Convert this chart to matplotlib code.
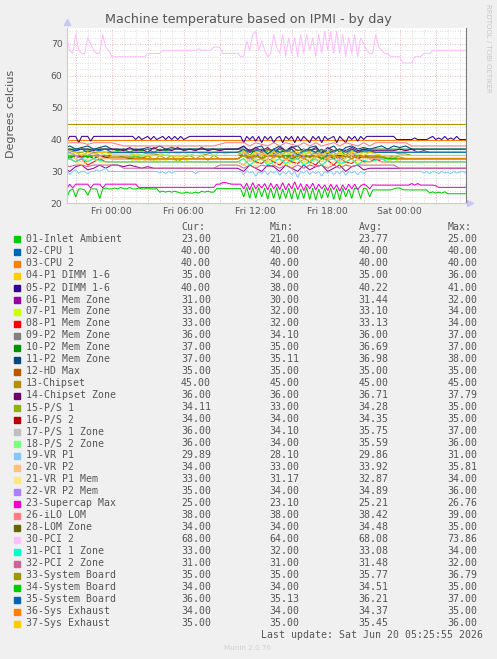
import numpy as np
import matplotlib
matplotlib.use('Agg')
import matplotlib.pyplot as plt
from matplotlib.ticker import MultipleLocator, FuncFormatter

W, H = 497, 659

# legend names and summary columns
names = ['01-Inlet Ambient', '02-CPU 1', '03-CPU 2', '04-P1 DIMM 1-6', '05-P2 DIMM 1-6',
         '06-P1 Mem Zone', '07-P1 Mem Zone', '08-P1 Mem Zone', '09-P2 Mem Zone',
         '10-P2 Mem Zone', '11-P2 Mem Zone', '12-HD Max', '13-Chipset', '14-Chipset Zone',
         '15-P/S 1', '16-P/S 2', '17-P/S 1 Zone', '18-P/S 2 Zone', '19-VR P1', '20-VR P2',
         '21-VR P1 Mem', '22-VR P2 Mem', '23-Supercap Max', '26-iLO LOM', '28-LOM Zone',
         '30-PCI 2', '31-PCI 1 Zone', '32-PCI 2 Zone', '33-System Board', '34-System Board',
         '35-System Board', '36-Sys Exhaust', '37-Sys Exhaust']
cur = [23.00, 40.00, 40.00, 35.00, 40.00, 31.00, 33.00, 33.00, 36.00, 37.00, 37.00, 35.00,
       45.00, 36.00, 34.11, 34.00, 36.00, 36.00, 29.89, 34.00, 33.00, 35.00, 25.00, 38.00,
       34.00, 68.00, 33.00, 31.00, 35.00, 34.00, 36.00, 34.00, 35.00]
mins = [21.00, 40.00, 40.00, 34.00, 38.00, 30.00, 32.00, 32.00, 34.10, 35.00, 35.11, 35.00,
        45.00, 36.00, 33.00, 34.00, 34.10, 34.00, 28.10, 33.00, 31.17, 34.00, 23.10, 38.00,
        34.00, 64.00, 32.00, 31.00, 35.00, 34.00, 35.13, 34.00, 35.00]
avgs = [23.77, 40.00, 40.00, 35.00, 40.22, 31.44, 33.10, 33.13, 36.00, 36.69, 36.98, 35.00,
        45.00, 36.71, 34.28, 34.35, 35.75, 35.59, 29.86, 33.92, 32.87, 34.89, 25.21, 38.42,
        34.48, 68.08, 33.08, 31.48, 35.77, 34.51, 36.21, 34.37, 35.45]
maxs = [25.00, 40.00, 40.00, 36.00, 41.00, 32.00, 34.00, 34.00, 37.00, 37.00, 38.00, 35.00,
        45.00, 37.79, 35.00, 35.00, 37.00, 36.00, 31.00, 35.81, 34.00, 36.00, 26.76, 39.00,
        35.00, 73.86, 34.00, 32.00, 36.79, 35.00, 37.00, 35.00, 36.00]

# traces: values from Thu 20:00 on, every 15 min (136 values) or every 30 min (68 values)
# sections: before Fri 00:00 | Fri 00:00-11:00 | Fri 11:00-22:00 | after Fri 22:00
s01 = ("22 21.6 24 24.5 22 24.5 24.5 24.2 22.5 24.5 24.5 24.5 21.5 24.5 24.8 24.5 | "
       "24.5 24.8 24.5 25 24.6 24.5 25 24.5 24.5 24.8 24.5 24.5 24.8 24.5 24.5 24.6 "
       "23.5 23.8 23.5 23.8 23.5 23.8 23.5 23.2 23.2 23.5 23.2 23.2 23.5 23.2 23.8 23.5 "
       "23.8 23.5 23.5 24.6 24.6*8 | "
       "22 25 21.6 25 21.6 25 22 24.8 21.3 24.8 21.5 25 21.2 24.5 21.5 24.8 21.3 24.8 21.2 24.5 "
       "21.5 25 21.2 24.8 21 24.5 21.5 24.8 21.8 24.8 21.2 24.6 21 24.8 22 24.5 21.5 24.8 "
       "24.5 21.5 24.8 24.5 22 24.2 | "
       "24.2*6 24.5 24.8 24.8 24.3 24.2*8 23.2 23.6 23.2 23.5 23.2 23.6 23*8")
s02 = "40*68"
s03 = "40*68"
s04 = ("35 36 35 34.5 35 36 35 35 | 35*4 35.5 35 34.5 35 35.5 35 35 34.5 35*10 | "
       "36 34.5 35.5 34 36 35 34.5 36 35 34 35.5 36 34.5 35 36 34 35.5 35 36 34.5 35 35 | 35*16")
s05 = ("38.5 39.5 41 41 41 39 41 41 41 39.5 41 41 41 41 41 41 | "
       "41*8 40 41 40 40.5 41 40 41 40 40.5 41 40 41 40 41 40 41 40 40.5 41*18 | "
       "39 41 40 41 39.5 41 39 41 40 41 39 40.5 41 39 41 40 41 39 41 39.5 41 40 39 41 "
       "40 41 39 41 40 40.5 41 39 41 40 39 41 40 41 39.5 41 40 41 41 41 | "
       "41*7 40*6 40.5 40*4 40.5 41 40 40.5 40 41 40 40.5 40 41 40 40 40 40")
s06 = ("31 30 31.5 32 30.5 31 32 31 | 32*2 31.5 32 31.5 31 31.5 31*15 | "
       "30 32 31 30 32 31.5 30 32 31 30 32 30.5 31.5 32 30 31 32 30 31.5 32 30.5 31 | 31*16")
s07 = ("33 34 33 32 33.5 34 33 33 | 33*4 34 33 34 33 34 33.5 34 33 34 33 33*8 | "
       "34 32 33 34 32.5 33.5 34 32 33 34 32.5 33 34 32 33.5 34 32 33 34 32.5 33 33 | "
       "33.5 34 33 34 33*12")
s08 = ("33 34 33 34 32 33 34 33 | 33*22 | "
       "32 34 33 32.5 34 33 32 34 33 32.5 34 33 32 34 33.5 32 34 33 32.5 34 33 33 | 34 33*15")
s09 = ("36 37 36 35 36 37 36 36 | 36*22 | "
       "35 37 36 34.1 36.5 37 35 36 37 34.5 36 37 35.5 36 37 34.5 36 37 35 36 36.5 36 | 36*16")
s10 = ("37*8 | 37 36.5 37 36 37 36.5 37 36 37 36.5 37*12 | "
       "37 35 37 36 37 35.5 37 36 37 35 37 36.5 37 35.5 37 36 37 35 37 36 37 37 | 37*16")
s11 = ("37 38 37 37.5 38 37 37.5 38 | 37*6 37.5 37 38 37 37.5 37*11 | "
       "38 36 37.5 38 35.11 37 38 36.5 37.5 38 36 37.5 38 35.5 37 38 36 37.5 38 37 37.5 37 | "
       "37.5 38 37 38 37.5 38 37*10")
s12 = "35*68"
s13 = "45*68"
s14 = ("36.5 37 36.5 37 37 36.5 37 37 | "
       "37*2 36.5 37.5 36.5 37 36 37.5 36.5 37 36.5 37.5 36.5 37 36.5 37.5 36.5 37 36.5 37 37 37 | "
       "37.79 36.5 37.5 36.5 37.5 36 37.5 36.5 37.79 36.5 37 36.5 37.5 36 37.5 36.5 37 36.5 "
       "37.5 36.5 37 36.5 | 36.5*4 37 36.5 37 36 36.5 36*7")
s15 = ("34.5 35 34 35 34.5 35 34 34.5 | "
       "34*4 35 34 35 33.5 35 34 35 33 34.5 35 34 35 33.5 35 34 34*3 | "
       "35 33.5 34.5 35 33 34.5 35 34 33.5 35 34.5 33 35 34 34.5 35 33.5 34.5 35 34 34.5 34 | "
       "34.5 35 34 35 34.5 34.11*11")
s16 = ("35 34 35 34.5 35 34 35 34.5 | 34*22 | "
       "35 34 35 34 35 34.5 35 34 35 34 35 34.5 35 34 35 34 35 34.5 35 34 35 34 | 34*16")
s17 = ("36 37 36 35 36 37 36 36 | 35.5*4 36*18 | "
       "37 34.5 36 37 35 36.5 34.1 37 36 35 37 36 34.5 36.5 37 35 36 37 35 36 36 36 | 36*16")
s18 = ("36 35 36 36 35 36 36 35 | "
       "35*4 36 35 36 35.5 36 35 36 35.5 36 35 36 35.5 36 35 36 35.5 36 36 | "
       "36 34 36 35 36 34.5 36 35 36 34 36 35.5 36 34.5 36 35 36 34 36 35 36 36 | 36*16")
s19 = ("29.5 30.5 29 30 30.5 29.5 30 30 29.2 30 30 30.5 30 30.5 31 30 | "
       "30*16 29.5 30 29.3 30 29.5 30*7 29.3 30*15 | "
       "29 30.2 29.5 30 28.5 30 29.3 30.2 29 30 29.5 30.3 28.8 30 29.2 30.2 29 30 28.1 30 "
       "29.5 30.3 29 30 29.3 30 28.5 30 29.5 30.2 29 30 29.2 30.3 28.8 30 29.5 30 29 30 "
       "29.3 30 30 30 | "
       "30*16 29.5 30 29.3 30 29.8 29.3 30 29.5 29.8 29.3 30 29.5 29.8 30 29.5 29.9")
s20 = ("34 35 34 33 34 35.81 34 34 | 34*4 33.5 34 33 34 33.5 34*13 | "
       "35 33 34 35.5 33 34 35 33.5 34 35.5 33 34 35 33 34.5 35 33 34 35.5 33.5 34 34 | 34*16")
s21 = ("33 34 33 32 33 34 33 33 | 33*22 | "
       "32 34 31.5 33.5 34 32 33 34 31.17 33 34 32 33.5 34 31.5 33 34 32 33 34 32.5 33 | 33*16")
s22 = ("35 36 35 34 35 36 35 35 | 35*22 | "
       "36 34 35 36 34.5 35 36 34 35 36 34.5 35 36 34 35.5 36 34 35 36 34.5 35 35 | 35*16")
s23 = ("24.7 24.5 26 24.8 26 26 26 26 26 24.8 26 26 26 24.8 26 26 | "
       "26*9 25*26 26 26 26.5 26.5 26.2 26*4 | "
       "24.5 26.3 24.2 26.5 24.5 26 24.8 26.2 24.2 26.3 24.5 26 24.3 26.5 24.2 26.2 "
       "24.5 26.76 24.3 26.2 24 26 24.5 26.3 24.2 26 24.5 25.8 24 26 24.3 25.8 "
       "23.8 25.8 24.2 26 24.5 26 24.3 25.5 26 25.5 24.5 25.8 | "
       "25.7*12 26.2 25.7 26.2 25.7*5 25.5 25*11")
s26 = ("38.5 39 39 39 38.5 39 39 39 | 39 38.5 38*16 38.5 39 39 39 | "
       "39 38 39 38.5 38 39 38 39 38.5 38 39 38 39 38 38.5 39 38 39 38.5 38 39 38 | 39*6 38*10")
s28 = ("35 34.5 35 35 34.5 35 35 35 | 35*2 34.5 34*19 | "
       "35 34.5 35 34 35 35 34.5 35 34 35 35 34.5 35 34 35 35 34.5 35 34 35 35 34.5 | "
       "34.5*2 34*14")
s30 = ("72 72 68 67 73 68 67 67 72 70 68 67 67 73 69 68 | "
       "66*12 67*5 68*3 68*8 68 68.5 68 68 68 68 69 69 69 67 67 67 67 67 67 66 | "
       "66 71 68 73 74 68 71 68 66 67 73 69 67 73 66 72 67 72 66 73 67 73 68 72 "
       "66 73 67 74 68 73.86 67 74 67 73 66 72 67 73 66 72 70 68 67 67 | "
       "73 69 68 67 67 66 66 66 66 64 64 64 64 66 66 66 67 67 67 68 68*12")
s31 = ("33.5 34 33 34 33 34 33.5 33 | 33*22 | "
       "34 32 33.5 34 32 33 34 32.5 33.5 34 32 33 34 32 33.5 34 32.5 33 34 32 33.5 33 | "
       "33.5 34 33*14")
s32 = ("32 31.5 32 32 31.5 32 32 32 | 32*2 31*16 32*4 | "
       "31 32 31 32 31.5 32 31 32 31 32 31 32 31.5 32 31 32 31 32 31.5 32 32 32 | 32*4 31*12")
s33 = ("36 36.5 36 36 36.5 36 36 36 | 36*6 35.5*2 35*8 35.5 36*5 | "
       "36.5 36 36.79 36 36.5 36.79 36 36.5 36 36.79 36.2 36.5 36 36.79 36 36.5 36.79 36 "
       "36.5 36 36.2 36 | 36*4 35.5*2 35*10")
s34 = ("35 34.5 35 35 34.5 35 35 35 | 34.5*6 34*16 | "
       "35 34.5 35 34 35 35 34.5 35 34 35 35 34.5 35 34 35 35 34.5 35 34 35 34.5 34.5 | "
       "34.5*2 34*14")
s35 = ("36.5 37 36.5 37 36 37 36.5 37 | 36*22 | "
       "37 36 36.5 37 35.5 37 36 36.5 37 35.2 36.5 37 36 37 35.5 36.5 37 36 37 36 36.5 36.5 | "
       "36*16")
s36 = ("35*8 | 34.5*4 34*18 | "
       "35 34.5 35 34 35 34.5 35 34 34.5 35 34 35 34.5 35 34 35 34.5 35 34 35 34.5 34.5 | "
       "34.5*4 34*12")
s37 = ("36 35.5 36 35 36 35.5 36 36 | 35*22 | "
       "36 35 36 35.5 35 36 35 36 35.5 36 35 36 35 35.5 36 35 36 35 36 35.5 35 36 | "
       "35.5 35*15")

traces = [s01, s02, s03, s04, s05, s06, s07, s08, s09, s10, s11, s12, s13, s14, s15, s16,
          s17, s18, s19, s20, s21, s22, s23, s26, s28, s30, s31, s32, s33, s34, s35, s36, s37]

# munin default palette, wraps after 29 colours
palette = ['#00cc00', '#0066b3', '#ff8000', '#ffcc00', '#330099', '#990099', '#ccff00',
           '#ff0000', '#808080', '#008f00', '#00487d', '#b35a00', '#b38f00', '#6b006b',
           '#8fb300', '#b30000', '#bebebe', '#80ff80', '#80c9ff', '#ffc080', '#ffe680',
           '#aa80ff', '#ee00cc', '#ff8080', '#666600', '#ffbfff', '#00ffcc', '#cc6699',
           '#999900']
colours = [palette[i % len(palette)] for i in range(len(names))]


def parse(spec):
    vals = []
    for tok in spec.split():
        if tok == '|':
            continue
        if '*' in tok:
            v, r = tok.split('*')
            vals += [float(v)] * int(r)
        else:
            vals.append(float(tok))
    return np.array(vals)


TEXT = '#555555'
fig = plt.figure(figsize=(W / 100, H / 100), dpi=100, facecolor='#f0f0f0')
ax = fig.add_axes([66.7 / W, 1 - 203.3 / H, 399 / W, 175.3 / H])
ax.set_facecolor('white')

for i, spec in enumerate(traces):
    v = parse(spec)
    assert len(v) in (68, 136), (names[i], len(v))
    step = 0.25 if len(v) == 136 else 0.5
    t = -4 + step * np.arange(len(v))
    ax.plot(t, v, color=colours[i], lw=0.75, solid_joinstyle='miter')

ax.set_xlim(-3.75, 29.5)
ax.set_ylim(20, 75)

ax.xaxis.set_major_locator(MultipleLocator(3))
ax.xaxis.set_minor_locator(MultipleLocator(1))
ax.yaxis.set_major_locator(MultipleLocator(10))
ax.yaxis.set_minor_locator(MultipleLocator(2))


def xlabel(v, pos):
    if round(v) % 6:
        return ''
    day = ['Thu', 'Fri', 'Sat', 'Sun'][int(v // 24) + 1]
    return '%s %02d:00' % (day, int(v % 24))


ax.xaxis.set_major_formatter(FuncFormatter(xlabel))
ax.grid(which='minor', color='#d4d4d4', linestyle=(0, (1, 2)), lw=0.6)
ax.grid(which='major', color='#eba0a0', linestyle=(0, (1, 2)), lw=0.6)
ax.set_axisbelow(True)
ax.tick_params(which='both', length=0, labelsize=6.7, colors=TEXT, pad=3)

for side in ('top',):
    ax.spines[side].set_visible(False)
ax.spines['left'].set_color('#c8c8f0')
ax.spines['bottom'].set_color('#c8c8f0')
ax.spines['right'].set_color('#7a7a7a')
for s in ax.spines.values():
    s.set_linewidth(0.8)
ax.plot([0], [1.035], marker='^', ms=4, color='#c8c8f0', transform=ax.transAxes, clip_on=False)
ax.plot([1.012], [0], marker='>', ms=4, color='#c8c8f0', transform=ax.transAxes, clip_on=False)

fig.text(248 / W, 1 - 19 / H, 'Machine temperature based on IPMI - by day',
         ha='center', va='center', fontsize=9.2, color=TEXT)
fig.text(11 / W, 1 - 114 / H, 'Degrees celcius', rotation=90,
         ha='center', va='center', fontsize=8, color=TEXT)
fig.text(488 / W, 1 - 4 / H, 'RRDTOOL / TOBI OETIKER', rotation=-90,
         ha='center', va='top', fontsize=5, color='#c8c8c8')

# legend table
mono = dict(family='DejaVu Sans Mono', fontsize=7.1, color=TEXT, va='center')
cols = [181, 269.5, 358.5, 447.5]
for x, head in zip(cols, ['Cur:', 'Min:', 'Avg:', 'Max:']):
    fig.text(x / W, 1 - 227.5 / H, head, **mono)
for i, name in enumerate(names):
    y = 239.5 + 12.0 * i
    fig.patches.append(plt.Rectangle((14 / W, 1 - (y + 3) / H), 6 / W, 6 / H,
                                     color=colours[i], transform=fig.transFigure))
    fig.text(26 / W, 1 - y / H, name, **mono)
    for x, val in zip(cols, (cur[i], mins[i], avgs[i], maxs[i])):
        fig.text(x / W, 1 - y / H, '%.2f' % val, **mono)

fig.text(261 / W, 1 - 635.5 / H, 'Last update: Sat Jun 20 05:25:55 2026', **mono)
fig.text(248 / W, 1 - 648.5 / H, 'Munin 2.0.76', ha='center', va='center',
         fontsize=5.2, color='#cfcfcf')

fig.savefig('out.png', dpi=100, facecolor=fig.get_facecolor())
